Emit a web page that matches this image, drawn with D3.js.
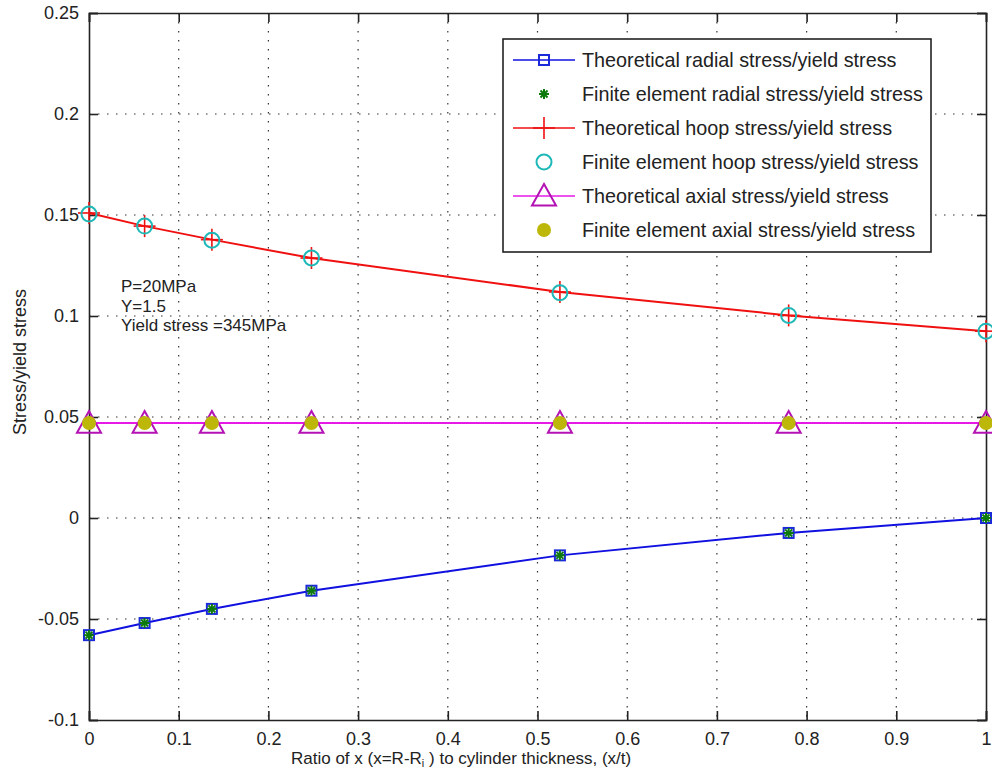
<!DOCTYPE html>
<html>
<head>
<meta charset="utf-8">
<script src="https://cdn.jsdelivr.net/npm/d3@7/dist/d3.min.js"></script>
<style>
  body { margin: 0; background: #fff; }
  svg text { font-family: Arial, "Liberation Sans", sans-serif; fill: #222; }
</style>
</head>
<body>
<div id="chart"></div>
<script>
// Data
var xRatio = [0, 0.062, 0.137, 0.248, 0.525, 0.78, 1.0]
var radialTheory = [-0.058, -0.052, -0.045, -0.036, -0.0185, -0.0074, 0]
var radialFE = [-0.058, -0.052, -0.045, -0.036, -0.0185, -0.0074, 0]
var hoopTheory = [0.151, 0.1445, 0.1378, 0.1287, 0.1119, 0.1003, 0.0925]
var hoopFE = [0.1505, 0.1445, 0.1375, 0.1287, 0.1115, 0.1003, 0.0925]
var axialTheory = [0.047, 0.047, 0.047, 0.047, 0.047, 0.047, 0.047]
var axialFE = [0.047, 0.047, 0.047, 0.047, 0.047, 0.047, 0.047]

var xTicks = [0, 0.1, 0.2, 0.3, 0.4, 0.5, 0.6, 0.7, 0.8, 0.9, 1]
var yTicks = [-0.1, -0.05, 0, 0.05, 0.1, 0.15, 0.2, 0.25]

var legendLabels = [
  "Theoretical radial stress/yield stress",
  "Finite element radial stress/yield stress",
  "Theoretical hoop stress/yield stress",
  "Finite element hoop stress/yield stress",
  "Theoretical axial stress/yield stress",
  "Finite element axial stress/yield stress"
]
var notes = ["P=20MPa", "Y=1.5", "Yield stress =345MPa"]

var margin = { top: 13, right: 6, bottom: 54, left: 89 }
var width = 992 - margin.left - margin.right
var height = 774 - margin.top - margin.bottom

var svg = d3.select("#chart").append("svg")
  .attr("width", 992)
  .attr("height", 774)

var g = svg.append("g")
  .attr("transform", "translate(" + margin.left + "," + margin.top + ")")

var x = d3.scaleLinear().domain([0, 1]).range([0, width])
var y = d3.scaleLinear().domain([-0.1, 0.25]).range([height, 0])

// matlab style labels, plain hyphen for negatives
var fmt = d => String(+d.toFixed(2))

// dotted grid
g.append("g").selectAll("line")
  .data(xTicks.slice(1, -1))
  .enter().append("line")
  .attr("x1", d => x(d)).attr("x2", d => x(d))
  .attr("y1", 0).attr("y2", height)
  .attr("stroke", "#333").attr("stroke-width", 1.2)
  .attr("stroke-dasharray", "1.5,7.5")

g.append("g").selectAll("line")
  .data(yTicks.slice(1, -1))
  .enter().append("line")
  .attr("y1", d => y(d)).attr("y2", d => y(d))
  .attr("x1", 0).attr("x2", width)
  .attr("stroke", "#333").attr("stroke-width", 1.2)
  .attr("stroke-dasharray", "1.5,7.5")

// axes with inward ticks
var xAxis = g.append("g")
  .attr("transform", "translate(0," + height + ")")
  .call(d3.axisBottom(x).tickValues(xTicks).tickSize(-9).tickPadding(12).tickFormat(fmt))
var yAxis = g.append("g")
  .call(d3.axisLeft(y).tickValues(yTicks).tickSize(-9).tickPadding(16).tickFormat(fmt))
var xTop = g.append("g")
  .call(d3.axisTop(x).tickValues(xTicks).tickSize(-9).tickFormat(""))
var yRight = g.append("g")
  .attr("transform", "translate(" + width + ",0)")
  .call(d3.axisRight(y).tickValues(yTicks).tickSize(-9).tickFormat(""))

;[xAxis, yAxis, xTop, yRight].forEach(a => {
  a.select(".domain").attr("stroke", "#222").attr("stroke-width", 1.6)
  a.selectAll(".tick line").attr("stroke", "#222").attr("stroke-width", 1.6)
  a.selectAll(".tick text").style("font-size", "18px").attr("fill", "#222")
})
yAxis.selectAll(".tick text").attr("dx", 6)

// lines
var line = d3.line().x((d, i) => x(xRatio[i])).y(d => y(d))

g.append("path").datum(radialTheory)
  .attr("d", line).attr("fill", "none")
  .attr("stroke", "#1010e0").attr("stroke-width", 2)
g.append("path").datum(hoopTheory)
  .attr("d", line).attr("fill", "none")
  .attr("stroke", "#f01010").attr("stroke-width", 2)
g.append("path").datum(axialTheory)
  .attr("d", line).attr("fill", "none")
  .attr("stroke", "#e619e6").attr("stroke-width", 2)

// marker drawing helpers
function drawSquare(sel, cx, cy) {
  sel.append("rect").attr("x", cx - 5).attr("y", cy - 5)
    .attr("width", 10).attr("height", 10)
    .attr("fill", "none").attr("stroke", "#1a2ad8").attr("stroke-width", 2)
}
function drawStar(sel, cx, cy) {
  var r = 5
  for (var k = 0; k < 4; k++) {
    var a = k * Math.PI / 4
    sel.append("line")
      .attr("x1", cx - r * Math.cos(a)).attr("y1", cy - r * Math.sin(a))
      .attr("x2", cx + r * Math.cos(a)).attr("y2", cy + r * Math.sin(a))
      .attr("stroke", "#0c7a0c").attr("stroke-width", 2)
  }
}
function drawPlus(sel, cx, cy) {
  sel.append("line").attr("x1", cx).attr("x2", cx)
    .attr("y1", cy - 11).attr("y2", cy + 11)
    .attr("stroke", "#f01010").attr("stroke-width", 1.6)
  sel.append("line").attr("x1", cx - 11).attr("x2", cx + 11)
    .attr("y1", cy).attr("y2", cy)
    .attr("stroke", "#f01010").attr("stroke-width", 1.6)
}
function drawCircle(sel, cx, cy) {
  sel.append("circle").attr("cx", cx).attr("cy", cy).attr("r", 7.5)
    .attr("fill", "none").attr("stroke", "#1fb8b8").attr("stroke-width", 2)
}
function drawTriangle(sel, cx, cy) {
  var s = 12
  sel.append("path")
    .attr("d", "M" + cx + "," + (cy - s) + "L" + (cx + s) + "," + (cy + s * 0.8) + "L" + (cx - s) + "," + (cy + s * 0.8) + "Z")
    .attr("fill", "none").attr("stroke", "#b412b4").attr("stroke-width", 2)
}
function drawDot(sel, cx, cy) {
  sel.append("circle").attr("cx", cx).attr("cy", cy).attr("r", 7)
    .attr("fill", "#bdb70a")
}

var series = [
  { values: radialTheory, marker: drawSquare },
  { values: radialFE, marker: drawStar },
  { values: hoopTheory, marker: drawPlus },
  { values: hoopFE, marker: drawCircle },
  { values: axialTheory, marker: drawTriangle },
  { values: axialFE, marker: drawDot }
]

var markers = g.append("g")
series.forEach(s => {
  s.values.forEach((v, i) => s.marker(markers, x(xRatio[i]), y(v)))
})

// annotation text
g.append("g").selectAll("text")
  .data(notes)
  .enter().append("text")
  .attr("x", 32)
  .attr("y", (d, i) => 279 + i * 19.5)
  .style("font-size", "17px")
  .text(d => d)

// legend
var legend = svg.append("g").attr("transform", "translate(503,39)")
legend.append("rect")
  .attr("width", 428).attr("height", 213)
  .attr("fill", "#fff").attr("stroke", "#222").attr("stroke-width", 1.6)

var lineSeries = [true, false, true, false, true, false]
var lineColors = ["#1010e0", null, "#f01010", null, "#e619e6", null]

legendLabels.forEach((label, i) => {
  var ly = 21 + i * 34
  var row = legend.append("g")
  if (lineSeries[i]) {
    row.append("line").attr("x1", 10).attr("x2", 72)
      .attr("y1", ly).attr("y2", ly)
      .attr("stroke", lineColors[i]).attr("stroke-width", 1.6)
  }
  series[i].marker(row, 41, ly)
  row.append("text")
    .attr("x", 79).attr("y", ly + 7)
    .style("font-size", "19.8px")
    .text(label)
})

// axis labels
var xl = svg.append("text")
  .attr("x", 291).attr("y", 764)
  .style("font-size", "17px")
xl.append("tspan").text("Ratio of x (x=R-R")
xl.append("tspan").attr("dy", 3).style("font-size", "11px").text("i")
xl.append("tspan").attr("dy", -3).text(" ) to cylinder thickness, (x/t)")

svg.append("text")
  .attr("transform", "translate(26,362) rotate(-90)")
  .attr("text-anchor", "middle")
  .style("font-size", "18px")
  .text("Stress/yield stress")
</script>
</body>
</html>
